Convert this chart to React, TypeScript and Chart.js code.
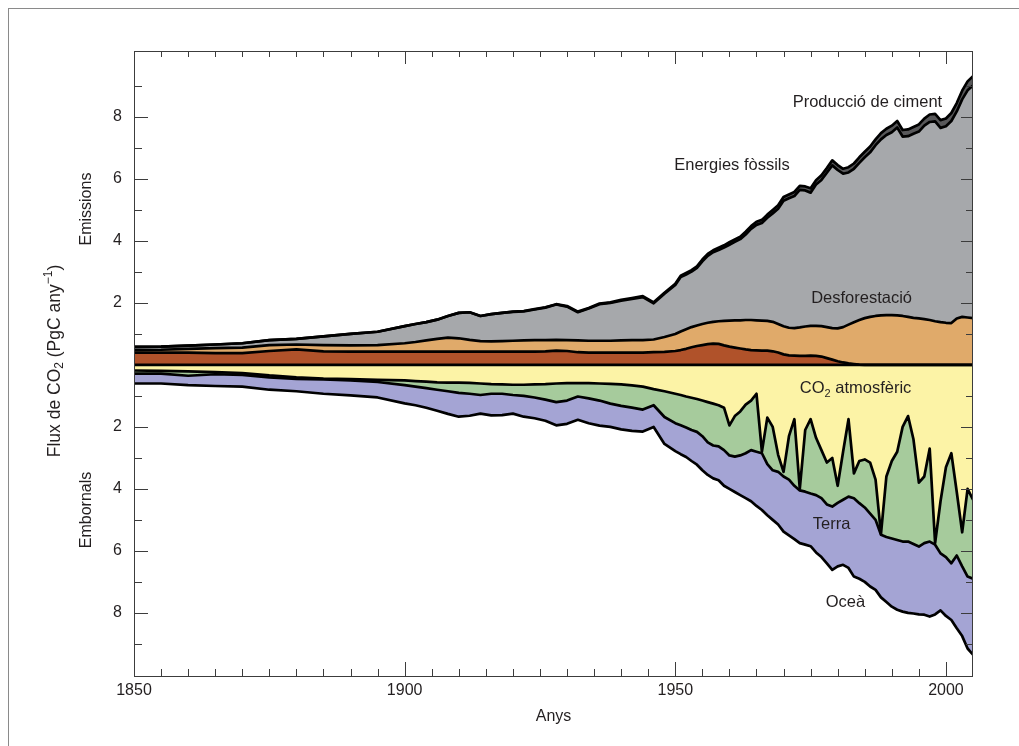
import React, { useEffect, useRef } from 'react';
import { Chart, registerables } from 'chart.js';

Chart.register(...registerables);

// ---------- data (PgC per year) ----------
const years = [
  1850, 1855, 1860, 1865, 1870, 1875, 1880, 1885, 1890, 1895,
  1900, 1902, 1904, 1906, 1908, 1910, 1912, 1914, 1916, 1918,
  1920, 1922, 1924, 1926, 1928, 1930, 1932, 1934, 1936, 1938,
  1940, 1942, 1944, 1946, 1948,
  1950, 1951, 1952, 1953, 1954, 1955, 1956, 1957, 1958, 1959,
  1960, 1961, 1962, 1963, 1964, 1965, 1966, 1967, 1968, 1969,
  1970, 1971, 1972, 1973, 1974, 1975, 1976, 1977, 1978, 1979,
  1980, 1981, 1982, 1983, 1984, 1985, 1986, 1987, 1988, 1989,
  1990, 1991, 1992, 1993, 1994, 1995, 1996, 1997, 1998, 1999,
  2000, 2001, 2002, 2003, 2004, 2005,
];

// Emissions (sources)
const deforestationExtratropical = [
  0.40, 0.40, 0.40, 0.38, 0.38, 0.45, 0.50, 0.44, 0.43, 0.43,
  0.43, 0.43, 0.43, 0.43, 0.43, 0.43, 0.43, 0.43, 0.43, 0.43,
  0.43, 0.43, 0.43, 0.44, 0.46, 0.45, 0.41, 0.40, 0.40, 0.40,
  0.40, 0.40, 0.40, 0.41, 0.42,
  0.45, 0.48, 0.52, 0.57, 0.61, 0.64, 0.67, 0.69, 0.68, 0.63,
  0.59, 0.56, 0.53, 0.50, 0.48, 0.47, 0.46, 0.46, 0.44, 0.40,
  0.34, 0.31, 0.30, 0.29, 0.29, 0.30, 0.29, 0.27, 0.22, 0.17,
  0.12, 0.08, 0.05, 0.03, 0.01, 0, 0, 0, 0, 0,
  0, 0, 0, 0, 0, 0, 0, 0, 0, 0,
  0, 0, 0, 0, 0, 0,
];
const deforestationTropical = [
  0.08, 0.09, 0.12, 0.16, 0.18, 0.19, 0.16, 0.20, 0.20, 0.21,
  0.27, 0.31, 0.36, 0.41, 0.45, 0.43, 0.38, 0.34, 0.33, 0.34,
  0.35, 0.36, 0.37, 0.36, 0.35, 0.35, 0.38, 0.38, 0.38, 0.38,
  0.39, 0.40, 0.40, 0.41, 0.48,
  0.55, 0.60, 0.63, 0.65, 0.66, 0.68, 0.69, 0.70, 0.73, 0.79,
  0.84, 0.88, 0.91, 0.95, 0.97, 0.97, 0.97, 0.96, 0.95, 0.92,
  0.91, 0.89, 0.89, 0.92, 0.95, 0.96, 0.97, 0.98, 1.00, 1.02,
  1.06, 1.14, 1.25, 1.35, 1.44, 1.51, 1.55, 1.58, 1.60, 1.61,
  1.61, 1.60, 1.58, 1.55, 1.52, 1.50, 1.48, 1.45, 1.41, 1.38,
  1.36, 1.35, 1.50, 1.55, 1.53, 1.51,
];
const fossilFuels = [
  0.10, 0.10, 0.10, 0.12, 0.14, 0.16, 0.18, 0.28, 0.37, 0.43,
  0.55, 0.58, 0.59, 0.62, 0.70, 0.82, 0.89, 0.81, 0.88, 0.91,
  0.93, 0.94, 0.99, 1.05, 1.14, 1.08, 0.91, 1.04, 1.18, 1.22,
  1.28, 1.33, 1.39, 1.17, 1.40,
  1.58, 1.76, 1.77, 1.79, 1.86, 2.02, 2.16, 2.25, 2.30, 2.37,
  2.45, 2.53, 2.62, 2.76, 2.94, 3.08, 3.15, 3.33, 3.50, 3.72,
  4.05, 4.18, 4.26, 4.44, 4.39, 4.30, 4.56, 4.72, 4.98, 5.25,
  5.11, 4.95, 4.91, 4.95, 5.07, 5.19, 5.31, 5.51, 5.68, 5.81,
  5.90, 6.06, 5.79, 5.83, 5.94, 6.03, 6.24, 6.39, 6.45, 6.27,
  6.34, 6.52, 6.68, 7.02, 7.33, 7.51,
];
const cementProduction = [
  0, 0, 0, 0, 0, 0, 0, 0, 0, 0,
  0, 0, 0, 0, 0, 0, 0, 0, 0, 0,
  0.01, 0.01, 0.01, 0.01, 0.01, 0.02, 0.02, 0.02, 0.02, 0.02,
  0.03, 0.03, 0.03, 0.03, 0.03,
  0.04, 0.04, 0.05, 0.05, 0.05, 0.06, 0.06, 0.06, 0.07, 0.07,
  0.08, 0.08, 0.08, 0.09, 0.09, 0.10, 0.10, 0.10, 0.11, 0.11,
  0.12, 0.12, 0.13, 0.13, 0.13, 0.14, 0.14, 0.15, 0.15, 0.16,
  0.16, 0.16, 0.17, 0.17, 0.18, 0.18, 0.19, 0.19, 0.20, 0.20,
  0.21, 0.21, 0.21, 0.22, 0.22, 0.23, 0.23, 0.24, 0.24, 0.25,
  0.25, 0.26, 0.27, 0.28, 0.29, 0.30,
];

// Sinks
const atmosphericCO2 = [
  0.18, 0.19, 0.21, 0.23, 0.26, 0.34, 0.40, 0.44, 0.46, 0.48,
  0.50, 0.52, 0.54, 0.56, 0.57, 0.57, 0.58, 0.60, 0.62, 0.63,
  0.64, 0.64, 0.63, 0.62, 0.60, 0.59, 0.59, 0.59, 0.60, 0.61,
  0.63, 0.66, 0.70, 0.78, 0.85,
  0.93, 0.97, 1.02, 1.06, 1.10, 1.15, 1.20, 1.25, 1.30, 1.38,
  1.95, 1.65, 1.50, 1.28, 1.15, 0.93, 2.80, 1.70, 2.00, 2.90,
  3.45, 2.30, 1.75, 4.00, 2.10, 1.75, 2.35, 2.75, 3.15, 3.00,
  3.90, 2.80, 1.75, 3.50, 3.10, 3.05, 3.15, 3.70, 5.45, 3.60,
  3.10, 2.80, 2.00, 1.65, 2.40, 3.80, 3.60, 2.70, 5.75, 4.40,
  3.30, 2.85, 4.10, 5.40, 4.00, 4.35,
];
const landSink = [
  0.10, 0.09, 0.14, 0.07, 0.06, 0.06, 0.05, 0.03, 0.04, 0.07,
  0.15, 0.18, 0.21, 0.24, 0.28, 0.33, 0.35, 0.37, 0.31, 0.30,
  0.33, 0.36, 0.42, 0.50, 0.60, 0.56, 0.43, 0.49, 0.55, 0.64,
  0.69, 0.72, 0.74, 0.52, 0.83,
  0.95, 0.98, 1.00, 1.04, 1.06, 1.15, 1.30, 1.35, 1.33, 1.37,
  0.97, 1.31, 1.42, 1.57, 1.60, 1.87, 0.05, 1.50, 1.40, 0.55,
  0.15, 1.40, 2.15, 0.05, 1.99, 2.40, 1.85, 1.55, 1.35, 1.57,
  0.55, 1.55, 2.50, 0.80, 1.36, 1.55, 1.65, 1.30, 0.03, 1.95,
  2.50, 2.85, 3.70, 4.05, 3.38, 2.06, 2.15, 3.00, 0.05, 1.68,
  2.90, 3.55, 2.05, 1.10, 2.83, 2.55,
];
const oceanSink = [
  0.32, 0.32, 0.30, 0.38, 0.38, 0.40, 0.40, 0.46, 0.48, 0.50,
  0.59, 0.60, 0.63, 0.68, 0.73, 0.77, 0.71, 0.60, 0.70, 0.69,
  0.60, 0.67, 0.67, 0.68, 0.75, 0.75, 0.75, 0.80, 0.81, 0.75,
  0.76, 0.75, 0.71, 0.70, 0.87,
  0.90, 0.93, 0.95, 1.00, 1.06, 1.10, 1.05, 1.06, 1.09, 1.15,
  1.08, 1.14, 1.28, 1.45, 1.65, 1.75, 1.83, 1.65, 1.60, 1.70,
  1.78, 1.80, 1.72, 1.70, 1.71, 1.70, 1.85, 1.90, 1.90, 2.04,
  2.05, 2.10, 2.30, 2.53, 2.44, 2.40, 2.35, 2.26, 2.02, 2.10,
  2.20, 2.25, 2.26, 2.30, 2.24, 2.19, 2.31, 2.42, 2.25, 1.84,
  1.90, 1.83, 2.35, 2.25, 2.32, 2.45,
];

const xTickValues = [1850, 1900, 1950, 2000];
const yTickValues = [-8, -6, -4, -2, 2, 4, 6, 8];

// ---------- styles ----------
const FONT = "'Liberation Sans', Arial, Helvetica, sans-serif";
const TEXT = '#231f20';
const COLORS = {
  rust: '#b0522a',
  orange: '#e0aa6a',
  gray: '#a6a8ab',
  cement: '#58585a',
  yellow: '#fcf3a6',
  green: '#a6cb9c',
  purple: '#a4a4d4',
};

const decorPlugin = {
  id: 'decor',
  afterDatasetsDraw(chart: any) {
    const { ctx, chartArea: a } = chart;
    const x = chart.scales.x;
    const y = chart.scales.y;
    ctx.save();

    // plot frame
    ctx.strokeStyle = '#3c3c3c';
    ctx.lineWidth = 1;
    ctx.strokeRect(a.left + 0.5, a.top + 0.5, a.right - a.left - 1, a.bottom - a.top - 1);

    // inward tick marks
    ctx.beginPath();
    for (let yr = 1855; yr < 2005; yr += 5) {
      const px = Math.round(x.getPixelForValue(yr)) + 0.5;
      const major = yr % 50 === 0;
      ctx.moveTo(px, a.bottom);
      ctx.lineTo(px, a.bottom - (major ? 15 : 8));
      ctx.moveTo(px, a.top);
      ctx.lineTo(px, a.top + (major ? 13 : 6));
    }
    for (let v = -9; v <= 9; v++) {
      if (v === 0) continue;
      const py = Math.round(y.getPixelForValue(v)) + 0.5;
      const major = v % 2 === 0;
      ctx.moveTo(a.left, py);
      ctx.lineTo(a.left + (major ? 14 : 8), py);
      ctx.moveTo(a.right, py);
      ctx.lineTo(a.right - (major ? 12 : 7), py);
    }
    ctx.stroke();

    // rotated axis titles
    ctx.fillStyle = TEXT;
    ctx.textBaseline = 'middle';
    const big = `16px ${FONT}`;
    const titleBig = `17.5px ${FONT}`;
    const titleSmall = `12px ${FONT}`;
    const rotatedPieces = (cx: number, cy: number, pieces: [string, string, number][]) => {
      ctx.save();
      ctx.translate(cx, cy);
      ctx.rotate(-Math.PI / 2);
      let total = 0;
      for (const [t, f] of pieces) { ctx.font = f; total += ctx.measureText(t).width; }
      let pos = -total / 2;
      ctx.textAlign = 'left';
      for (const [t, f, dy] of pieces) {
        ctx.font = f;
        ctx.fillText(t, pos, dy);
        pos += ctx.measureText(t).width;
      }
      ctx.restore();
    };
    rotatedPieces(a.left - 79, (a.top + a.bottom) / 2 - 3, [
      ['Flux de CO', titleBig, 0],
      ['2', titleSmall, 5],
      [' (PgC any', titleBig, 0],
      ['\u22121', titleSmall, -6],
      [')', titleBig, 0],
    ]);
    rotatedPieces(a.left - 47, y.getPixelForValue(5.03), [['Emissions', big, 0]]);
    rotatedPieces(a.left - 47, y.getPixelForValue(-4.68), [['Embornals', big, 0]]);

    // series labels
    const lab = `16.5px ${FONT}`;
    ctx.font = lab;
    const put = (s: string, yr: number, v: number, align: CanvasTextAlign = 'left') => {
      ctx.textAlign = align;
      ctx.fillText(s, x.getPixelForValue(yr), y.getPixelForValue(v));
    };
    put('Producció de ciment', 1999.3, 8.48, 'right');
    put('Energies fòssils', 1949.8, 6.45);
    put('Desforestació', 1975.1, 2.16);
    put('Terra', 1975.4, -5.16);
    put('Oceà', 1977.8, -7.65);
    // CO2 atmosfèric with subscript
    let px = x.getPixelForValue(1973.0);
    const py = y.getPixelForValue(-0.77);
    ctx.textAlign = 'left';
    ctx.fillText('CO', px, py);
    px += ctx.measureText('CO').width;
    ctx.font = `11px ${FONT}`;
    ctx.fillText('2', px, py + 5);
    px += ctx.measureText('2').width;
    ctx.font = lab;
    ctx.fillText(' atmosfèric', px, py);

    ctx.restore();
  },
};

export default function App() {
  const ref = useRef<HTMLCanvasElement>(null);

  useEffect(() => {
    const canvas = ref.current;
    if (!canvas) return;

    const pts = (vals: number[]) => years.map((yr, i) => ({ x: yr, y: vals[i] }));
    const zero = years.map(() => 0);
    const e1 = deforestationExtratropical.map((v) => v);
    const e2 = e1.map((v, i) => v + deforestationTropical[i]);
    const e3 = e2.map((v, i) => v + fossilFuels[i]);
    const e4 = e3.map((v, i) => v + cementProduction[i]);
    const s1 = atmosphericCO2.map((v) => -v);
    const s2 = s1.map((v, i) => v - landSink[i]);
    const s3 = s2.map((v, i) => v - oceanSink[i]);

    const ds = (label: string, vals: number[], fill: any, bg: string) => ({
      label,
      data: pts(vals),
      fill,
      backgroundColor: bg,
      borderColor: '#000',
      borderWidth: 2.7,
      pointRadius: 0,
      tension: 0,
      borderJoinStyle: 'round' as const,
    });

    const tickFont = { family: FONT, size: 16 };

    const chart = new Chart(canvas, {
      type: 'line',
      data: {
        datasets: [
          ds('zero', zero, false, 'transparent'),
          ds('Desforestació (extratròpics)', e1, 'origin', COLORS.rust),
          ds('Desforestació (tròpics)', e2, '-1', COLORS.orange),
          ds('Energies fòssils', e3, '-1', COLORS.gray),
          ds('Producció de ciment', e4, '-1', COLORS.cement),
          ds('CO2 atmosfèric', s1, 'origin', COLORS.yellow),
          ds('Terra', s2, '-1', COLORS.green),
          ds('Oceà', s3, '-1', COLORS.purple),
        ],
      },
      options: {
        responsive: false,
        animation: false,
        devicePixelRatio: 1,
        layout: { padding: { top: 42, right: 46, bottom: 9, left: 0 } },
        plugins: {
          legend: { display: false },
          tooltip: { enabled: false },
          filler: { drawTime: 'beforeDatasetsDraw', propagate: false },
        } as any,
        scales: {
          x: {
            type: 'linear',
            position: 'bottom',
            min: 1850,
            max: 2005,
            grid: { display: false, drawTicks: false },
            border: { display: false },
            ticks: {
              padding: 4,
              color: TEXT,
              font: tickFont,
              maxRotation: 0,
              autoSkip: false,
              callback: (v: any) => String(v),
            },
            afterBuildTicks: (s: any) => {
              s.ticks = xTickValues.map((v) => ({ value: v }));
            },
            afterFit: (s: any) => {
              s.height = 60;
            },
            title: {
              display: true,
              text: 'Anys',
              color: TEXT,
              font: tickFont,
              padding: { top: 0, bottom: 11 },
            },
          },
          y: {
            type: 'linear',
            min: -10.07,
            max: 10.13,
            grid: { display: false, drawTicks: false },
            border: { display: false },
            ticks: {
              padding: 12,
              color: TEXT,
              font: tickFont,
              callback: (v: any) => String(Math.abs(Number(v))),
            },
            afterBuildTicks: (s: any) => {
              s.ticks = yTickValues.map((v) => ({ value: v }));
            },
            afterFit: (s: any) => {
              s.width = 125;
            },
          },
        },
      } as any,
      plugins: [decorPlugin],
    });

    return () => chart.destroy();
  }, []);

  return (
    <div
      style={{
        position: 'fixed',
        left: 8,
        top: 8,
        width: 1020,
        height: 750,
        borderTop: '1px solid #8a8a8a',
        borderLeft: '1px solid #8a8a8a',
        boxSizing: 'border-box',
        background: '#fff',
      }}
    >
      <canvas
        ref={ref}
        width={1010}
        height={737}
        style={{ position: 'absolute', left: 0, top: 0, display: 'block' }}
      />
    </div>
  );
}
